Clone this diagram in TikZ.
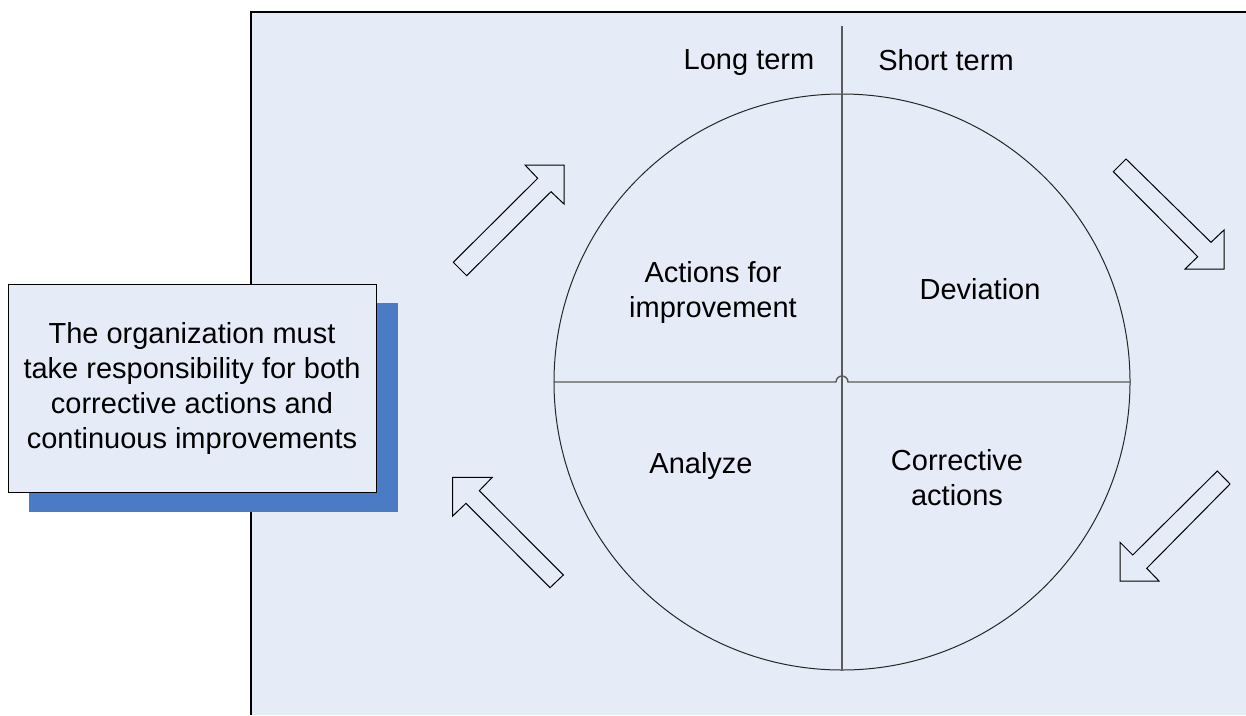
\documentclass[tikz,border=0pt]{standalone}
\usepackage{fontspec}
\setmainfont{Liberation Sans}
\definecolor{bgblue}{HTML}{E6ECF7}
\definecolor{shadowblue}{HTML}{4A7BC4}
\definecolor{linegray}{HTML}{5A5A5A}
\begin{document}
\begin{tikzpicture}[x=1pt,y=-1pt,
  lbl/.style={font=\fontsize{29}{35}\selectfont, align=center, inner sep=0pt, text depth=0pt},
  blockarrow/.style={draw=black, line width=1pt, fill=bgblue, line join=miter},
  quarter/.style={draw=linegray, line width=1.4pt}]
\useasboundingbox (0,0) rectangle (1246,715);
% background panel
\fill[bgblue] (251,12) rectangle (1246,715);
\draw[line width=1.3pt] (251,715) -- (251,12) -- (1246,12);
% circle
\node[circle, draw=black!85, line width=1pt, minimum size=576pt, inner sep=0pt] (c) at (842,382) {};
% cross lines
\coordinate (vt) at (842,26);
\coordinate (vb) at (842,670);
\draw[quarter] (vt) -- (vb);
\draw[quarter] (c.west) -- (836,382) arc[start angle=180, end angle=360, radius=6] -- (c.east);
% labels
\node[lbl] (lt) at (749,60) {Long term};
\node[lbl] (st) at (946,60) {Short term};
\node[lbl] (q1) at (713,289) {Actions for\\improvement};
\node[lbl] (q2) at (980,289) {Deviation};
\node[lbl] (q3) at (701,463) {Analyze};
\node[lbl] (q4) at (957,477) {Corrective\\actions};
% block arrows
\draw[blockarrow] (453.3,262.3) -- (537.7,178.3) -- (525,165) -- (564,165) -- (564,204) -- (551,191.7) -- (466.7,275.7) -- cycle;
\draw[blockarrow] (1126,159) -- (1211,242.3) -- (1224,230) -- (1224,269) -- (1185,269) -- (1197.7,256.7) -- (1113.3,171.7) -- cycle;
\draw[blockarrow] (1230,484) -- (1146.7,568.3) -- (1159,581) -- (1120,581) -- (1120,542.3) -- (1132.7,555) -- (1217.3,471) -- cycle;
\draw[blockarrow] (550,587.7) -- (466,503.3) -- (452.7,516) -- (452.7,477.3) -- (492.3,477.3) -- (479.3,490.7) -- (563.3,575) -- cycle;
% note box with shadow
\fill[shadowblue] (29,303) rectangle (398,512);
\node[draw=black, line width=1pt, fill=bgblue, minimum width=368pt, minimum height=208pt, inner sep=0pt,
  font=\fontsize{29}{35}\selectfont, align=center] (note) at (192,388)
  {The organization must\\take responsibility for both\\corrective actions and\\continuous improvements};
\end{tikzpicture}
\end{document}
